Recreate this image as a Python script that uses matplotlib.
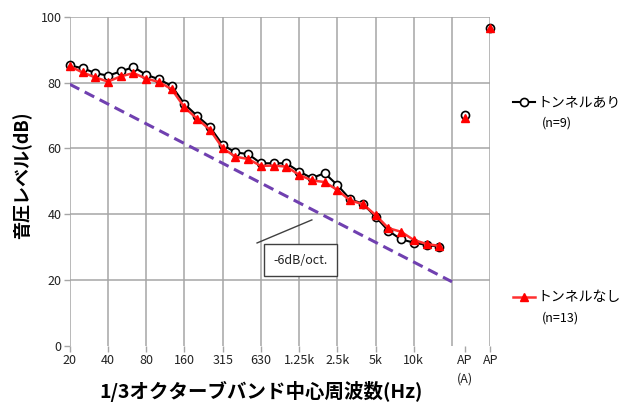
import matplotlib
matplotlib.use("Agg")
import matplotlib.pyplot as plt
from matplotlib.lines import Line2D

plt.rcParams['font.family'] = ['Noto Sans CJK JP', 'DejaVu Sans']

# 1/3 octave bands 20 Hz .. 16 kHz (index 0..29), AP(A) at 31, AP at 33
band_idx = list(range(30))
with_tunnel = [85.2, 84.4, 82.9, 82.1, 83.4, 84.7, 82.4, 81.0, 79.0, 73.5,
               69.9, 66.5, 61.1, 58.8, 58.3, 55.5, 55.5, 55.5, 53.0, 51.0,
               52.5, 48.9, 44.6, 43.2, 39.3, 35.0, 32.4, 31.4, 30.7, 30.2]
without_tunnel = [85.0, 83.1, 81.6, 80.3, 81.9, 82.9, 81.2, 80.2, 78.0, 72.5,
                  69.0, 65.7, 60.1, 57.5, 56.8, 54.7, 54.8, 54.5, 52.0, 50.3,
                  49.8, 47.4, 44.2, 43.1, 39.8, 35.8, 34.7, 32.2, 31.0, 30.4]
ap_idx = [31, 33]
ap_with = [70.3, 96.6]
ap_without = [69.3, 96.6]

# -6 dB/oct reference line
ref_x = [0, 30]
ref_y = [79.5, 19.5]

tick_pos = [0, 3, 6, 9, 12, 15, 18, 21, 24, 27, 31, 33]
tick_labels = ["20", "40", "80", "160", "315", "630", "1.25k", "2.5k",
               "5k", "10k", "AP\n(A)", "AP"]
grid_x = [0, 3, 6, 9, 12, 15, 18, 21, 24, 27, 30, 33]

fig = plt.figure(figsize=(6.4, 4.03), dpi=100)
ax = fig.add_axes([0.109, 0.1414, 0.657, 0.817])

gcol = '#a6a6a6'
for gx in grid_x:
    ax.axvline(gx, color=gcol, lw=1.1, zorder=0)
for gy in [20, 40, 60, 80, 100]:
    ax.axhline(gy, color=gcol, lw=1.1, zorder=0)

ax.plot(ref_x, ref_y, color='#7040b0', lw=2.2, ls=(0, (3.5, 2)), zorder=2)

ax.plot(band_idx, with_tunnel, color='black', lw=1.5, marker='o', ms=5.8,
        mfc='white', mec='black', mew=1.2, zorder=3, clip_on=False)
ax.plot(band_idx, without_tunnel, color='#ff3030', lw=1.8, marker='^', ms=6,
        mfc='red', mec='red', zorder=4, clip_on=False)
ax.plot(ap_idx, ap_with, ls='none', marker='o', ms=5.8, mfc='white',
        mec='black', mew=1.2, zorder=3, clip_on=False)
ax.plot(ap_idx, ap_without, ls='none', marker='^', ms=6, mfc='red',
        mec='red', zorder=4, clip_on=False)

# annotation box
ax.plot([14.7, 19.0], [31.3, 38.3], color='#404040', lw=1, zorder=5)
ax.text(18.1, 26.1, "-6dB/oct.", fontsize=9, ha='center', va='center',
        zorder=6, color='#222222',
        bbox=dict(boxstyle='square,pad=0.75', fc='white', ec='#404040', lw=1))

ax.set_xlim(0, 33)
ax.set_ylim(0, 100)
ax.set_xticks(tick_pos)
ax.set_xticklabels(tick_labels, fontsize=9, color='#222222', linespacing=1.5)
ax.set_yticks([0, 20, 40, 60, 80, 100])
ax.tick_params(axis='both', length=4, color=gcol, width=1, labelsize=9,
               labelcolor='#222222', pad=2)
for s in ax.spines.values():
    s.set_visible(False)

W, H = 640.0, 403.0
def fx(p):
    return p / W
def fy(p):
    return 1 - p / H

fig.text(fx(22), fy(175), "音圧レベル(dB)", fontsize=13, fontweight='bold',
         rotation=90, ha='center', va='center')
fig.text(fx(261), fy(391), "1/3オクターブバンド中心周波数(Hz)", fontsize=14,
         fontweight='bold', ha='center', va='center')

# legend at right
fig.add_artist(Line2D([fx(513), fx(535)], [fy(102), fy(102)], color='black',
                      lw=1.5))
fig.add_artist(Line2D([fx(524)], [fy(102)], ls='none', marker='o', ms=5.8,
                      mfc='white', mec='black', mew=1.2))
fig.text(fx(537), fy(102), "トンネルあり", fontsize=10, va='center', ha='left')
fig.text(fx(542), fy(123), "(n=9)", fontsize=9, va='center', ha='left')

fig.add_artist(Line2D([fx(513), fx(535)], [fy(297), fy(297)],
                      color='#ff3030', lw=1.8))
fig.add_artist(Line2D([fx(524)], [fy(297)], ls='none', marker='^', ms=6,
                      mfc='red', mec='red'))
fig.text(fx(537), fy(297), "トンネルなし", fontsize=10, va='center', ha='left')
fig.text(fx(542), fy(318), "(n=13)", fontsize=9, va='center', ha='left')

fig.savefig("out.png", dpi=100)
